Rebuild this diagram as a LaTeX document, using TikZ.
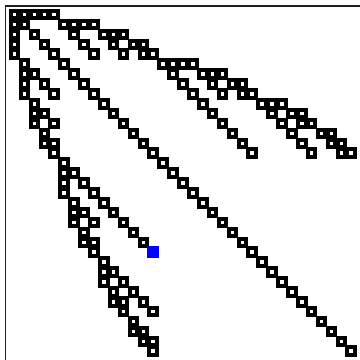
\documentclass[tikz,border=0pt]{standalone}
\usepackage{tikz}

\begin{document}
\begin{tikzpicture}[x=0.5pt, y=-0.5pt]
  \definecolor{moldura}{RGB}{30,30,30}
  \definecolor{marca}{RGB}{0,0,255}
  \tikzset{nz/.style={draw=black, line width=2pt}}
  \useasboundingbox (0,0) rectangle (360,360);
  % --- moldura (so topo e esquerda aparecem) ---
  \draw[moldura, line width=0.8pt] (5.7,360) -- (5.7,5.7) -- (360,5.7);
  % --- diagonal ---
  \foreach \k in {0,...,34}
    \draw[nz] ({10.85+9.9*\k},{10.85+9.9*\k}) rectangle +(7.6,7.6);
  % --- entradas fora da diagonal (i<j), desenhadas nos dois lados ---
  \foreach \i/\j in {0/1,0/2,0/3,0/4,
                     1/5,1/6,1/7,1/8,
                     2/6,2/9,2/10,2/11,
                     3/7,3/10,3/12,3/13,
                     4/8,4/11,4/13,4/14,
                     5/15,5/16,5/17,5/18,
                     6/16,6/19,6/20,6/21,
                     7/17,7/20,7/22,7/23,
                     8/18,8/21,8/23,8/24,
                     9/19,9/25,9/26,9/27,
                     10/20,10/26,10/28,10/29,
                     11/21,11/27,11/29,11/30,
                     12/22,12/28,12/31,12/32,
                     13/23,13/29,13/32,13/33,
                     14/30,14/33,14/34} {
    \draw[nz] ({10.85+9.9*\j},{10.85+9.9*\i}) rectangle +(7.6,7.6);
    \draw[nz] ({10.85+9.9*\i},{10.85+9.9*\j}) rectangle +(7.6,7.6);
  }
  % --- par 14/24: so o lado de cima e preto ---
  \draw[nz] ({10.85+9.9*24},{10.85+9.9*14}) rectangle +(7.6,7.6);
  \fill[marca] ({14.65+9.9*14-6.15},{14.65+9.9*24-6.15}) rectangle +(12.3,12.3);
\end{tikzpicture}
\end{document}
